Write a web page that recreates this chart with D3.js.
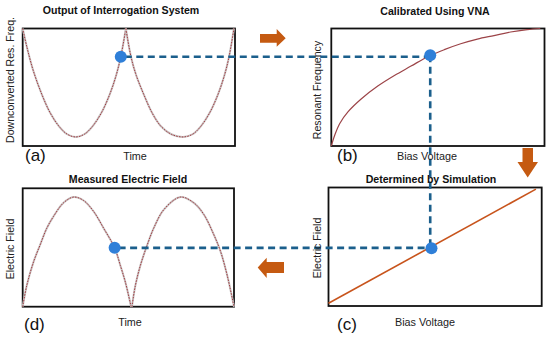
<!DOCTYPE html>
<html><head><meta charset="utf-8">
<script src="https://cdn.jsdelivr.net/npm/d3@7"></script>
<style>body{margin:0;background:#fff}svg{display:block}text{font-family:"Liberation Sans",Arial,Helvetica,sans-serif}</style>
</head><body><svg id="c" width="550" height="340"></svg>
<script>
// ---- Data (normalised units 0..1) ----
// (a) Output of interrogation system: time vs downconverted resonant freq (two cusped branches)
const timeA1 = [0.00,0.02,0.05,0.09,0.13,0.17,0.21,0.25,0.29,0.33,0.37,0.41,0.44,0.462,0.486];
const freqA1 = [1.00,0.84,0.64,0.44,0.28,0.17,0.10,0.077,0.10,0.17,0.28,0.44,0.60,0.76,1.00];
const timeA2 = [0.486,0.51,0.535,0.57,0.61,0.65,0.70,0.755,0.80,0.84,0.88,0.92,0.95,0.972,0.995];
const freqA2 = [1.00,0.76,0.60,0.44,0.28,0.17,0.10,0.077,0.10,0.17,0.28,0.44,0.60,0.76,1.00];
// (b) Calibrated using VNA: bias voltage vs resonant frequency
const biasB = [0.0,0.016,0.039,0.078,0.14,0.218,0.296,0.374,0.452,0.53,0.607,0.685,0.763,0.841,0.919,0.98];
const freqB = [0.0,0.091,0.19,0.29,0.40,0.51,0.60,0.68,0.76,0.82,0.87,0.91,0.94,0.97,0.99,1.0];
// (c) Determined by simulation: bias voltage vs electric field
const biasC = [0.0,0.973];
const fieldC = [0.023,0.986];
// (d) Measured electric field: time vs electric field (two arches)
const timeD1 = [0.0,0.019,0.051,0.082,0.114,0.146,0.193,0.241,0.288,0.335,0.383,0.435,0.462,0.486,0.513];
const fieldD1 = [0.0,0.177,0.377,0.52,0.663,0.763,0.877,0.926,0.897,0.806,0.663,0.497,0.349,0.206,0.0];
const timeD2 = [0.517,0.533,0.557,0.589,0.62,0.668,0.747,0.81,0.858,0.905,0.937,0.968,1.0];
const fieldD2 = [0.0,0.177,0.349,0.52,0.663,0.82,0.926,0.877,0.777,0.606,0.463,0.263,0.0];
// Operating point markers
const dotA = [0.462, 0.76];
const dotB = [0.464, 0.773];
const dotC = [0.483, 0.488];
const dotD = [0.435, 0.497];
// Texts
const titles = ["Output of Interrogation System","Calibrated Using VNA","Determined by Simulation","Measured Electric Field"];
const xLabels = ["Time","Bias Voltage","Bias Voltage","Time"];
const yLabels = ["Downconverted Res. Freq.","Resonant Frequency","Electric Field","Electric Field"];
const tags = ["(a)","(b)","(c)","(d)"];

const svg = d3.select("#c");
const panels = [
  {x0:22.7,x1:235,y0:28.5,y1:146},
  {x0:331.3,x1:544.5,y0:28.5,y1:146},
  {x0:328.5,x1:541.7,y0:187.5,y1:306},
  {x0:22.7,x1:234,y0:188.3,y1:306.7}
];
panels.forEach(p=>{
  p.x = d3.scaleLinear().domain([0,1]).range([p.x0,p.x1]);
  p.y = d3.scaleLinear().domain([0,1]).range([p.y1,p.y0]);
});
const zip=(a,b)=>a.map((v,i)=>[v,b[i]]);
const lineGen=p=>d3.line().x(d=>p.x(d[0])).y(d=>p.y(d[1])).curve(d3.curveCatmullRom.alpha(0.5));

function dotted(p,pts){
  svg.append("path").attr("d",lineGen(p)(pts)).attr("fill","none").attr("stroke","#c9c4c4").attr("stroke-width",2);
  svg.append("path").attr("d",lineGen(p)(pts)).attr("fill","none").attr("stroke","#a23c42").attr("stroke-width",1).attr("stroke-dasharray","1.6,1.2");
}
// boxes
panels.forEach(p=>{
  svg.append("rect").attr("x",p.x0).attr("y",p.y0).attr("width",p.x1-p.x0).attr("height",p.y1-p.y0)
    .attr("fill","none").attr("stroke","#111").attr("stroke-width",1.8);
});
// curves
dotted(panels[0], zip(timeA1,freqA1));
dotted(panels[0], zip(timeA2,freqA2));
svg.append("path").attr("d",lineGen(panels[1])(zip(biasB,freqB))).attr("fill","none").attr("stroke","#9c4448").attr("stroke-width",1.2);
svg.append("path").attr("d",d3.line().x(d=>panels[2].x(d[0])).y(d=>panels[2].y(d[1]))(zip(biasC,fieldC))).attr("fill","none").attr("stroke","#c8541c").attr("stroke-width",1.6);
dotted(panels[3], zip(timeD1,fieldD1));
dotted(panels[3], zip(timeD2,fieldD2));

// dots positions
const pA=[panels[0].x(dotA[0]),panels[0].y(dotA[1])];
const pB=[panels[1].x(dotB[0]),panels[1].y(dotB[1])];
const pC=[panels[2].x(dotC[0]),panels[2].y(dotC[1])];
const pD=[panels[3].x(dotD[0]),panels[3].y(dotD[1])];
const dash = (a,b)=>svg.append("line").attr("x1",a[0]).attr("y1",a[1]).attr("x2",b[0]).attr("y2",b[1])
  .attr("stroke","#1b5f8c").attr("stroke-width",2.6).attr("stroke-dasharray","7,4.5");
dash([pA[0]+4,pA[1]],[pB[0],pA[1]]);
dash([pB[0],pB[1]],[pB[0],pC[1]]);
dash([pD[0]+4,pD[1]],[pC[0],pD[1]]);
[pA,pB,pC,pD].forEach(d=>svg.append("circle").attr("cx",d[0]).attr("cy",d[1]).attr("r",6).attr("fill","#2f7fd8"));

// arrows
const ac="#c55a11";
svg.append("path").attr("fill",ac).attr("d","M260,34 L276.7,34 L276.7,29 L285.7,38.3 L276.7,46.7 L276.7,42.7 L260,42.7 Z");
svg.append("path").attr("fill",ac).attr("d","M522.5,148 L533,148 L533,162 L538,162 L527.7,177.5 L517.5,162 L522.5,162 Z");
svg.append("path").attr("fill",ac).attr("d","M284,262 L266.7,262 L266.7,257.7 L257.7,267.5 L266.7,278 L266.7,273 L284,273 Z");

// titles
const tpos=[[121,13.5],[435,14.5],[431,183],[128,182.5]];
titles.forEach((t,i)=>svg.append("text").attr("x",tpos[i][0]).attr("y",tpos[i][1]).attr("text-anchor","middle")
  .attr("font-size",10.6).attr("font-weight","bold").attr("fill","#111").text(t));
const xpos=[[135,160],[427,160],[425,326],[130,326]];
xLabels.forEach((t,i)=>svg.append("text").attr("x",xpos[i][0]).attr("y",xpos[i][1]).attr("text-anchor","middle")
  .attr("font-size",10.8).attr("fill","#222").text(t));
const ypos=[[14,80],[321,90],[321,248],[14,249]];
yLabels.forEach((t,i)=>svg.append("text").attr("transform",`translate(${ypos[i][0]},${ypos[i][1]}) rotate(-90)`)
  .attr("text-anchor","middle").attr("font-size",10.6).attr("fill","#222").text(t));
const gpos=[[25,161],[337,161],[337,330],[24,330]];
tags.forEach((t,i)=>svg.append("text").attr("x",gpos[i][0]).attr("y",gpos[i][1])
  .attr("font-size",17).attr("fill","#111").text(t));
</script></body></html>
